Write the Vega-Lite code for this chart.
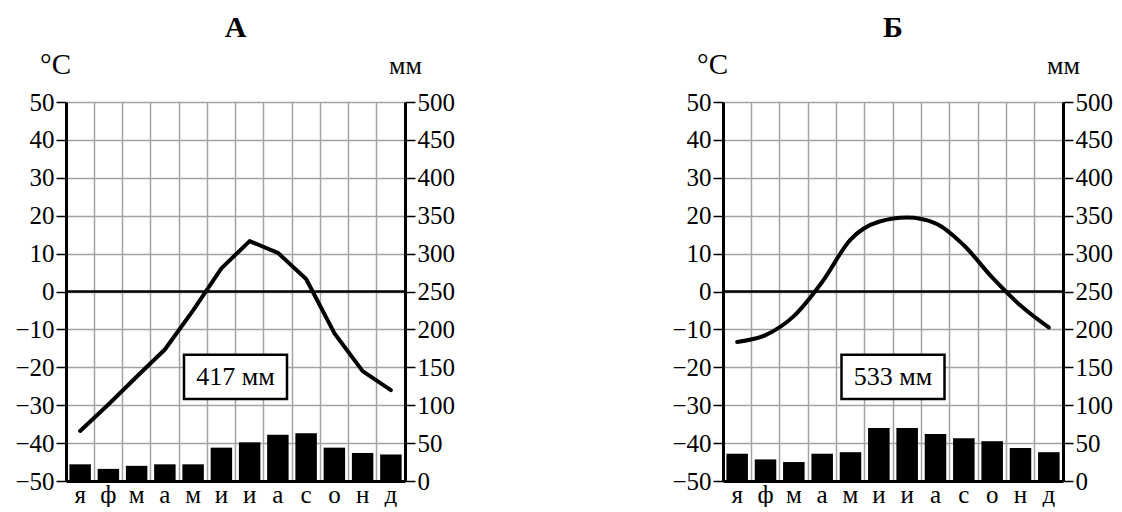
{
  "$schema": "https://vega.github.io/schema/vega-lite/v6.json",
  "background": "white",
  "padding": {"left": 14, "top": 13, "right": 0, "bottom": 0},
  "spacing": 216,
  "config": {
    "view": {"stroke": null},
    "font": "Liberation Serif",
    "style": {"guide-label": {"font": "Liberation Serif"}, "guide-title": {"font": "Liberation Serif"}, "group-title": {"font": "Liberation Serif"}},
    "axis": {
      "labelFont": "Liberation Serif", "labelFontSize": 25, "labelColor": "black", "labelOverlap": false,
      "domainColor": "black", "domainWidth": 3,
      "tickColor": "black", "tickWidth": 1.5, "tickSize": 10, "labelPadding": 2,
      "gridColor": "#a3a3a3", "gridWidth": 1.5,
      "titleFont": "Liberation Serif", "titleFontWeight": "normal", "titleColor": "black"
    },
    "title": {"font": "Liberation Serif", "fontSize": 30, "fontWeight": "bold", "color": "black", "offset": 7, "frame": "group", "anchor": "middle"}
  },
  "hconcat": [
    {
      "title": "А",
      "width": 339,
      "height": 379,
      "data": {"values": [
        {"m": 1, "t": -36.8, "p": 22},
        {"m": 2, "t": -29.8, "p": 16},
        {"m": 3, "t": -22.5, "p": 20},
        {"m": 4, "t": -15.3, "p": 22},
        {"m": 5, "t": -5, "p": 22},
        {"m": 6, "t": 6.1, "p": 44},
        {"m": 7, "t": 13.3, "p": 51},
        {"m": 8, "t": 10.2, "p": 61},
        {"m": 9, "t": 3.3, "p": 63},
        {"m": 10, "t": -11, "p": 44},
        {"m": 11, "t": -21, "p": 37},
        {"m": 12, "t": -26, "p": 35}
      ]},
      "layer": [
        {
          "mark": {"type": "bar", "color": "black", "width": {"band": 0.76}},
          "encoding": {
            "x": {"field": "m", "type": "ordinal", "scale": {"type": "band", "paddingInner": 0, "paddingOuter": 0},
              "axis": {"bandPosition": 0, "grid": true, "ticks": false, "tickSize": 0, "labelAngle": 0, "labelPadding": 1, "title": null, "labelOverlap": false,
                "labelExpr": "['я','ф','м','а','м','и','и','а','с','о','н','д'][datum.value-1]"}},
            "y": {"field": "p", "type": "quantitative", "scale": {"domain": [0, 500], "nice": false},
              "axis": {"orient": "right", "values": [0, 50, 100, 150, 200, 250, 300, 350, 400, 450, 500], "grid": true, "labelOverlap": false,
                "title": "мм", "titleAngle": 0, "titleAlign": "center", "titleBaseline": "alphabetic", "titleX": 0, "titleY": -29, "titleFontSize": 26}}
          }
        },
        {
          "layer": [
            {
              "mark": {"type": "line", "color": "black", "strokeWidth": 4, "strokeCap": "round", "strokeJoin": "round"},
              "encoding": {
                "x": {"field": "m", "type": "ordinal", "scale": {"type": "band", "paddingInner": 0, "paddingOuter": 0}},
                "y": {"field": "t", "type": "quantitative", "scale": {"domain": [-50, 50], "nice": false},
                  "axis": {"orient": "left", "values": [-50, -40, -30, -20, -10, 0, 10, 20, 30, 40, 50], "grid": false, "labelOverlap": false,
                    "title": "°C", "titleAngle": 0, "titleAlign": "center", "titleBaseline": "alphabetic", "titleX": -11, "titleY": -29, "titleFontSize": 29}}
              }
            },
            {
              "data": {"values": [{}]},
              "mark": {"type": "rule", "color": "black", "strokeWidth": 2.5},
              "encoding": {"y": {"datum": 0, "type": "quantitative",
                  "axis": {"orient": "left", "values": [-50, -40, -30, -20, -10, 0, 10, 20, 30, 40, 50], "grid": false, "labelOverlap": false,
                    "title": "°C", "titleAngle": 0, "titleAlign": "center", "titleBaseline": "alphabetic", "titleX": -11, "titleY": -29, "titleFontSize": 29}}}
            },
            {
              "data": {"values": [{"m": 6, "t": -22.5, "label": "417 мм"}]},
              "mark": {"type": "point", "shape": "M-1,-0.43L1,-0.43L1,0.43L-1,0.43Z", "size": 10609, "filled": true, "fill": "white", "stroke": "black", "strokeWidth": 2.5, "opacity": 1, "fillOpacity": 1},
              "encoding": {
                "x": {"field": "m", "type": "ordinal", "bandPosition": 1, "scale": {"type": "band", "paddingInner": 0, "paddingOuter": 0}},
                "y": {"field": "t", "type": "quantitative",
                  "axis": {"orient": "left", "values": [-50, -40, -30, -20, -10, 0, 10, 20, 30, 40, 50], "grid": false, "labelOverlap": false,
                    "title": "°C", "titleAngle": 0, "titleAlign": "center", "titleBaseline": "alphabetic", "titleX": -11, "titleY": -29, "titleFontSize": 29}}
              }
            },
            {
              "data": {"values": [{"m": 6, "t": -22.5, "label": "417 мм"}]},
              "mark": {"type": "text", "font": "Liberation Serif", "fontSize": 26, "color": "black"},
              "encoding": {
                "x": {"field": "m", "type": "ordinal", "bandPosition": 1, "scale": {"type": "band", "paddingInner": 0, "paddingOuter": 0}},
                "y": {"field": "t", "type": "quantitative",
                  "axis": {"orient": "left", "values": [-50, -40, -30, -20, -10, 0, 10, 20, 30, 40, 50], "grid": false, "labelOverlap": false,
                    "title": "°C", "titleAngle": 0, "titleAlign": "center", "titleBaseline": "alphabetic", "titleX": -11, "titleY": -29, "titleFontSize": 29}},
                "text": {"field": "label"}
              }
            }
          ]
        }
      ],
      "resolve": {"scale": {"y": "independent"}}
    },
    {
      "title": "Б",
      "width": 340,
      "height": 379,
      "data": {"values": [
        {"m": 1, "t": -13.3, "p": 36},
        {"m": 2, "t": -11.5, "p": 28.5},
        {"m": 3, "t": -6.5, "p": 25},
        {"m": 4, "t": 2.5, "p": 36},
        {"m": 5, "t": 13.7, "p": 38},
        {"m": 6, "t": 18.4, "p": 70},
        {"m": 7, "t": 19.5, "p": 70},
        {"m": 8, "t": 18, "p": 62},
        {"m": 9, "t": 12.2, "p": 56.5},
        {"m": 10, "t": 3.7, "p": 52.5},
        {"m": 11, "t": -3.7, "p": 43.5},
        {"m": 12, "t": -9.5, "p": 38}
      ]},
      "layer": [
        {
          "mark": {"type": "bar", "color": "black", "width": {"band": 0.76}},
          "encoding": {
            "x": {"field": "m", "type": "ordinal", "scale": {"type": "band", "paddingInner": 0, "paddingOuter": 0},
              "axis": {"bandPosition": 0, "grid": true, "ticks": false, "tickSize": 0, "labelAngle": 0, "labelPadding": 1, "title": null, "labelOverlap": false,
                "labelExpr": "['я','ф','м','а','м','и','и','а','с','о','н','д'][datum.value-1]"}},
            "y": {"field": "p", "type": "quantitative", "scale": {"domain": [0, 500], "nice": false},
              "axis": {"orient": "right", "values": [0, 50, 100, 150, 200, 250, 300, 350, 400, 450, 500], "grid": true, "labelOverlap": false,
                "title": "мм", "titleAngle": 0, "titleAlign": "center", "titleBaseline": "alphabetic", "titleX": 0, "titleY": -29, "titleFontSize": 26}}
          }
        },
        {
          "layer": [
            {
              "mark": {"type": "line", "color": "black", "strokeWidth": 4, "strokeCap": "round", "strokeJoin": "round", "interpolate": "monotone"},
              "encoding": {
                "x": {"field": "m", "type": "ordinal", "scale": {"type": "band", "paddingInner": 0, "paddingOuter": 0}},
                "y": {"field": "t", "type": "quantitative", "scale": {"domain": [-50, 50], "nice": false},
                  "axis": {"orient": "left", "values": [-50, -40, -30, -20, -10, 0, 10, 20, 30, 40, 50], "grid": false, "labelOverlap": false,
                    "title": "°C", "titleAngle": 0, "titleAlign": "center", "titleBaseline": "alphabetic", "titleX": -11, "titleY": -29, "titleFontSize": 29}}
              }
            },
            {
              "data": {"values": [{}]},
              "mark": {"type": "rule", "color": "black", "strokeWidth": 2.5},
              "encoding": {"y": {"datum": 0, "type": "quantitative",
                  "axis": {"orient": "left", "values": [-50, -40, -30, -20, -10, 0, 10, 20, 30, 40, 50], "grid": false, "labelOverlap": false,
                    "title": "°C", "titleAngle": 0, "titleAlign": "center", "titleBaseline": "alphabetic", "titleX": -11, "titleY": -29, "titleFontSize": 29}}}
            },
            {
              "data": {"values": [{"m": 6, "t": -22.5, "label": "533 мм"}]},
              "mark": {"type": "point", "shape": "M-1,-0.43L1,-0.43L1,0.43L-1,0.43Z", "size": 10609, "filled": true, "fill": "white", "stroke": "black", "strokeWidth": 2.5, "opacity": 1, "fillOpacity": 1},
              "encoding": {
                "x": {"field": "m", "type": "ordinal", "bandPosition": 1, "scale": {"type": "band", "paddingInner": 0, "paddingOuter": 0}},
                "y": {"field": "t", "type": "quantitative",
                  "axis": {"orient": "left", "values": [-50, -40, -30, -20, -10, 0, 10, 20, 30, 40, 50], "grid": false, "labelOverlap": false,
                    "title": "°C", "titleAngle": 0, "titleAlign": "center", "titleBaseline": "alphabetic", "titleX": -11, "titleY": -29, "titleFontSize": 29}}
              }
            },
            {
              "data": {"values": [{"m": 6, "t": -22.5, "label": "533 мм"}]},
              "mark": {"type": "text", "font": "Liberation Serif", "fontSize": 26, "color": "black"},
              "encoding": {
                "x": {"field": "m", "type": "ordinal", "bandPosition": 1, "scale": {"type": "band", "paddingInner": 0, "paddingOuter": 0}},
                "y": {"field": "t", "type": "quantitative",
                  "axis": {"orient": "left", "values": [-50, -40, -30, -20, -10, 0, 10, 20, 30, 40, 50], "grid": false, "labelOverlap": false,
                    "title": "°C", "titleAngle": 0, "titleAlign": "center", "titleBaseline": "alphabetic", "titleX": -11, "titleY": -29, "titleFontSize": 29}},
                "text": {"field": "label"}
              }
            }
          ]
        }
      ],
      "resolve": {"scale": {"y": "independent"}}
    }
  ]
}
